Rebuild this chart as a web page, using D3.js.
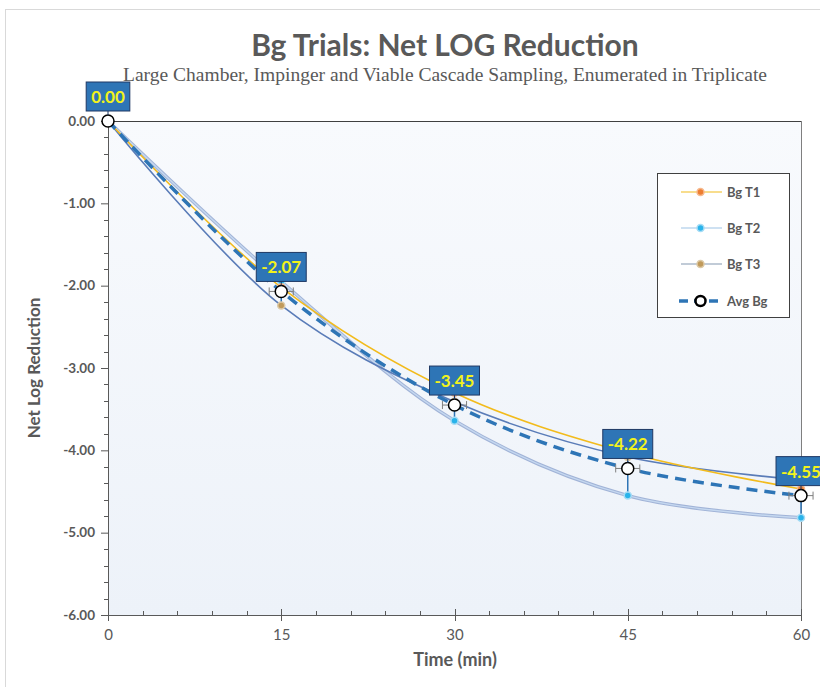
<!DOCTYPE html>
<html>
<head>
<meta charset="utf-8">
<script src="https://cdn.jsdelivr.net/npm/d3@7"></script>
<style>
  body { margin: 0; background: #fff; }
  svg { display: block; }
</style>
</head>
<body>
<svg id="chart" width="820" height="687"></svg>
<script>
// ----- DATA -----
var times = [0, 15, 30, 45, 60];
var bgT1 = [0, -2.02, -3.30, -4.03, -4.47];
var bgT2 = [0, -1.95, -3.64, -4.55, -4.82];
var bgT3 = [0, -2.24, -3.41, -4.08, -4.36];
var avgBg = [0, -2.07, -3.45, -4.22, -4.55];
var xTicks = [0, 15, 30, 45, 60];
var yTicks = [0, -1, -2, -3, -4, -5, -6];
var seriesNames = ["Bg T1", "Bg T2", "Bg T3", "Avg Bg"];

var svg = d3.select("#chart");
var font = "Lato, 'Open Sans', sans-serif";
var grey = "#595959";

// plain hyphen for negatives, like the original
var fmt = d3.formatLocale({ decimal: ".", thousands: ",", grouping: [3], currency: ["", ""], minus: "-" }).format(".2f");

// chart frame
svg.append("rect")
    .attr("x", 5.5).attr("y", 9.5)
    .attr("width", 900).attr("height", 720)
    .attr("fill", "#fff")
    .attr("stroke", "#d9d9d9");

// ----- SCALES -----
var pLeft = 108, pRight = 801, pTop = 121, pBottom = 615;
var x = d3.scaleLinear().domain([0, 60]).range([pLeft, pRight]);
var y = d3.scaleLinear().domain([-6, 0]).range([pBottom, pTop]);

// plot background
var defs = svg.append("defs");
var grad = defs.append("linearGradient").attr("id", "bg")
    .attr("x1", 0).attr("y1", 0).attr("x2", 0).attr("y2", 1);
grad.append("stop").attr("offset", "0%").attr("stop-color", "#f8fafd");
grad.append("stop").attr("offset", "100%").attr("stop-color", "#edf2f9");

svg.append("rect")
    .attr("x", pLeft).attr("y", pTop)
    .attr("width", pRight - pLeft).attr("height", pBottom - pTop)
    .attr("fill", "url(#bg)");

// top and right border
svg.append("line").attr("x1", pLeft).attr("x2", pRight).attr("y1", pTop + 0.5).attr("y2", pTop + 0.5)
    .attr("stroke", "#404040").attr("stroke-width", 1);
svg.append("line").attr("x1", pRight + 0.5).attr("x2", pRight + 0.5).attr("y1", pTop).attr("y2", pBottom)
    .attr("stroke", "#7f7f7f").attr("stroke-width", 1);

// ----- TITLES -----
svg.append("text")
    .attr("x", 445).attr("y", 56)
    .attr("text-anchor", "middle")
    .style("font-family", font).style("font-weight", "bold")
    .style("font-size", "30px").style("fill", grey)
    .text("Bg Trials: Net LOG Reduction");

svg.append("text")
    .attr("x", 445).attr("y", 81)
    .attr("text-anchor", "middle")
    .attr("textLength", 644).attr("lengthAdjust", "spacingAndGlyphs")
    .style("font-family", "'Liberation Serif', serif")
    .style("font-size", "18px").style("fill", grey)
    .text("Large Chamber, Impinger and Viable Cascade Sampling, Enumerated in Triplicate");

// ----- AXES -----
var yAxis = svg.append("g")
    .attr("transform", "translate(" + pLeft + ",0)")
    .call(d3.axisLeft(y).tickValues(yTicks).tickFormat(fmt).tickSize(7).tickPadding(6));
yAxis.select(".domain").attr("stroke", grey);
yAxis.selectAll(".tick line").attr("stroke", grey);
yAxis.selectAll("text")
    .style("font-family", font).style("font-weight", "bold")
    .style("font-size", "13.5px").style("fill", grey);

// minor y ticks
svg.append("g").selectAll("line")
    .data(d3.range(-6, 0.01, 0.2).filter(function(d) { return Math.abs(d - Math.round(d)) > 0.01; }))
    .join("line")
    .attr("x1", pLeft - 4).attr("x2", pLeft)
    .attr("y1", function(d) { return Math.round(y(d)) + 0.5; })
    .attr("y2", function(d) { return Math.round(y(d)) + 0.5; })
    .attr("stroke", grey);

var xAxis = svg.append("g")
    .attr("transform", "translate(0," + pBottom + ")")
    .call(d3.axisBottom(x).tickValues(xTicks).tickSize(0).tickPadding(14));
xAxis.select(".domain").attr("stroke", grey);
xAxis.selectAll("text")
    .style("font-family", font)
    .style("font-size", "15px").style("fill", grey);

// x ticks (cross the axis), minor every 3 min
svg.append("g").selectAll("line")
    .data(d3.range(0, 60.01, 3))
    .join("line")
    .attr("x1", function(d) { return Math.round(x(d)) + 0.5; })
    .attr("x2", function(d) { return Math.round(x(d)) + 0.5; })
    .attr("y1", function(d) { return d % 15 == 0 ? pBottom - 6 : pBottom - 4; })
    .attr("y2", function(d) { return d % 15 == 0 ? pBottom + 6 : pBottom; })
    .attr("stroke", grey);

svg.append("text")
    .attr("transform", "translate(40," + ((pTop + pBottom) / 2) + ") rotate(-90)")
    .attr("text-anchor", "middle")
    .style("font-family", font).style("font-weight", "bold")
    .style("font-size", "17px").style("fill", grey)
    .text("Net Log Reduction");

svg.append("text")
    .attr("x", 455).attr("y", 666)
    .attr("text-anchor", "middle")
    .style("font-family", font).style("font-weight", "bold")
    .style("font-size", "18px").style("fill", grey)
    .text("Time (min)");

// ----- SERIES -----
var line = d3.line()
    .x(function(d, i) { return x(times[i]); })
    .y(function(d) { return y(d); })
    .curve(d3.curveCatmullRom.alpha(0.5));

var plot = svg.append("g");

// T2: light blue with darker edge
plot.append("path").datum(bgT2).attr("d", line)
    .attr("fill", "none").attr("stroke", "#7f97c8").attr("stroke-width", 3.5).attr("opacity", 0.7);
plot.append("path").datum(bgT2).attr("d", line)
    .attr("fill", "none").attr("stroke", "#c5d8f0").attr("stroke-width", 1.5);

// T3: steel blue
plot.append("path").datum(bgT3).attr("d", line)
    .attr("fill", "none").attr("stroke", "#5a7cb8").attr("stroke-width", 1.6);

// T1: gold
plot.append("path").datum(bgT1).attr("d", line)
    .attr("fill", "none").attr("stroke", "#f2bb1c").attr("stroke-width", 1.6);

// Avg: thick dashed blue
plot.append("path").datum(avgBg).attr("d", line)
    .attr("fill", "none").attr("stroke", "#2e75b6").attr("stroke-width", 3.5)
    .attr("stroke-dasharray", "11,7");

// vertical error bars (range of trials)
plot.selectAll(".vbar")
    .data(avgBg.slice(1))
    .join("line")
    .attr("class", "vbar")
    .attr("x1", function(d, i) { return x(times[i + 1]); })
    .attr("x2", function(d, i) { return x(times[i + 1]); })
    .attr("y1", function(d, i) { return y(Math.max(bgT1[i + 1], bgT2[i + 1], bgT3[i + 1])); })
    .attr("y2", function(d, i) { return y(Math.min(bgT1[i + 1], bgT2[i + 1], bgT3[i + 1])); })
    .attr("stroke", "#2e75b6").attr("stroke-width", 1.5);

// horizontal error bars (+/- 1 min)
var hbars = plot.selectAll(".hbar")
    .data(avgBg.slice(1))
    .join("g")
    .attr("class", "hbar")
    .attr("transform", function(d, i) { return "translate(" + x(times[i + 1]) + "," + y(d) + ")"; });
var hw = x(1) - x(0) + 0.5;
hbars.append("line").attr("x1", -hw).attr("x2", hw).attr("stroke", "#7f7f7f");
hbars.append("line").attr("x1", -hw).attr("x2", -hw).attr("y1", -4).attr("y2", 4).attr("stroke", "#7f7f7f");
hbars.append("line").attr("x1", hw).attr("x2", hw).attr("y1", -4).attr("y2", 4).attr("stroke", "#7f7f7f");

// markers
function markers(data, fill, stroke, r) {
    plot.append("g").selectAll("circle")
        .data(data)
        .join("circle")
        .attr("cx", function(d, i) { return x(times[i]); })
        .attr("cy", function(d) { return y(d); })
        .attr("r", r)
        .attr("fill", fill)
        .attr("stroke", stroke).attr("stroke-width", 1.5);
}
markers(bgT3, "#c09a5b", "#dcc9a6", 3.5);
markers(bgT2, "#29b3ea", "#a6dcf5", 3.5);
markers(bgT1, "#ed7d31", "#f6b98e", 3.5);
markers(avgBg, "#fff", "#000", 6);

// data labels
var labels = plot.selectAll(".lbl")
    .data(avgBg)
    .join("g")
    .attr("class", "lbl")
    .attr("transform", function(d, i) { return "translate(" + x(times[i]) + "," + (y(d) - 10) + ")"; });
labels.append("line").attr("y1", 0).attr("y2", 4).attr("stroke", "#1f3864");
labels.each(function(d) {
    var g = d3.select(this);
    var t = g.append("text")
        .attr("y", -8)
        .attr("text-anchor", "middle")
        .style("font-family", font).style("font-weight", "bold")
        .style("font-size", "17px").style("fill", "#f2f21b")
        .text(fmt(d));
    var w = t.node().getComputedTextLength() + 10;
    g.insert("rect", "text")
        .attr("x", -w / 2).attr("y", -29)
        .attr("width", w).attr("height", 29)
        .attr("fill", "#2e75b6").attr("stroke", "#1f3864").attr("stroke-width", 1);
});

// ----- LEGEND -----
var legend = svg.append("g").attr("transform", "translate(657,173)");
legend.append("rect").attr("x", 0.5).attr("y", 0.5).attr("width", 132).attr("height", 144)
    .attr("fill", "#fff").attr("stroke", "#404040");

var legStyles = [
    { stroke: "#f2bb1c", width: 1.2, dash: null, fill: "#ed7d31", mstroke: "#f6b98e", r: 3.5 },
    { stroke: "#9dc3e6", width: 1.2, dash: null, fill: "#29b3ea", mstroke: "#a6dcf5", r: 3.5 },
    { stroke: "#8497b0", width: 1.2, dash: null, fill: "#c09a5b", mstroke: "#dcc9a6", r: 3.5 },
    { stroke: "#2e75b6", width: 3.5, dash: "9,6", fill: "#fff", mstroke: "#000", r: 5 }
];
var items = legend.selectAll(".item")
    .data(seriesNames)
    .join("g")
    .attr("class", "item")
    .attr("transform", function(d, i) { return "translate(0," + [19, 55, 91, 128][i] + ")"; });
items.append("line")
    .attr("x1", function(d, i) { return i == 3 ? 22 : 24; }).attr("x2", 65)
    .attr("stroke", function(d, i) { return legStyles[i].stroke; })
    .attr("stroke-width", function(d, i) { return legStyles[i].width; })
    .attr("stroke-dasharray", function(d, i) { return legStyles[i].dash; });
items.append("circle")
    .attr("cx", 43.5).attr("r", function(d, i) { return legStyles[i].r; })
    .attr("fill", function(d, i) { return legStyles[i].fill; })
    .attr("stroke", function(d, i) { return legStyles[i].mstroke; })
    .attr("stroke-width", function(d, i) { return i == 3 ? 2.5 : 1.5; });
items.append("text")
    .attr("x", 70).attr("dy", "0.35em")
    .style("font-family", font).style("font-weight", "bold")
    .style("font-size", "13px").style("fill", grey)
    .text(function(d) { return d; });
</script>
</body>
</html>
